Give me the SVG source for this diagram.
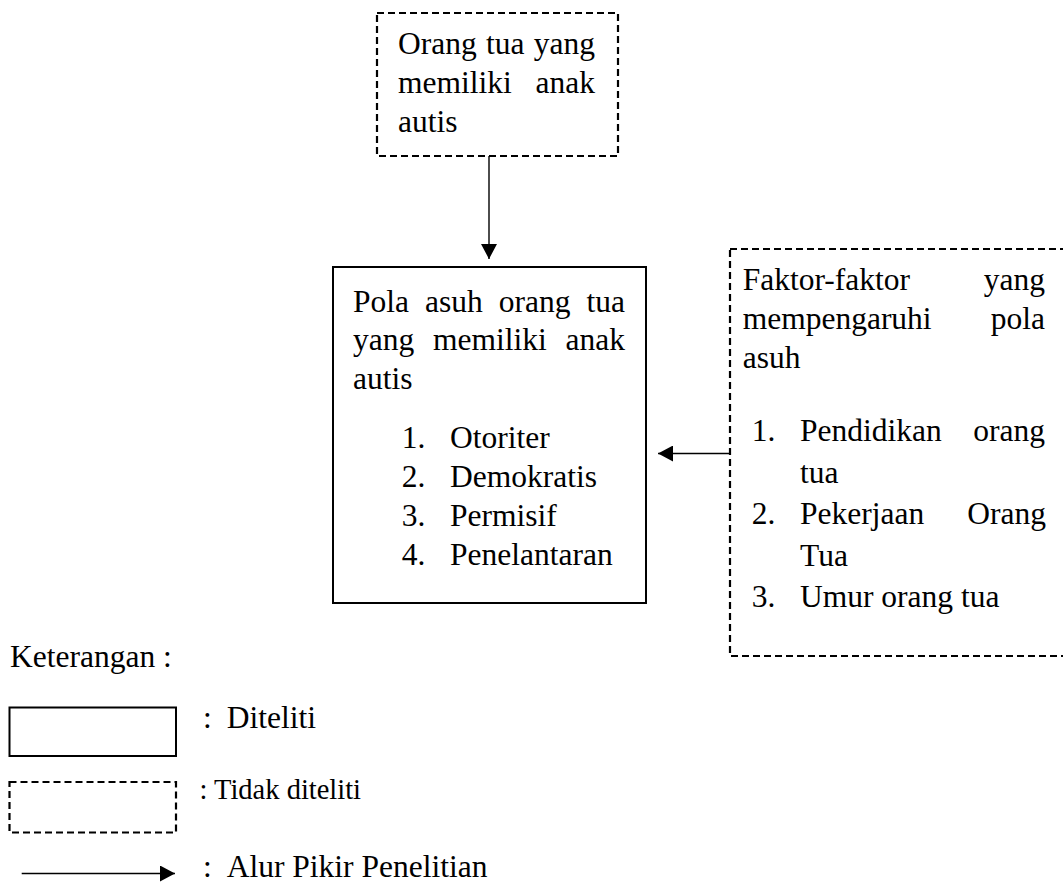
<svg xmlns="http://www.w3.org/2000/svg" width="1063" height="884" viewBox="0 0 1063 884">
  <defs>
    <style>
      .t { font-family: "Liberation Serif", "Times New Roman", serif; font-size: 31.5px; fill: #000; }
      .s { font-family: "Liberation Serif", "Times New Roman", serif; font-size: 28.5px; fill: #000; }
      .solid { fill: #fff; stroke: #000; stroke-width: 2; }
      .dash { fill: #fff; stroke: #000; stroke-width: 2.2; stroke-dasharray: 7 4; }
      .conn { fill: none; stroke: #000; stroke-width: 1.4; }
    </style>
    <marker id="arrow" markerUnits="userSpaceOnUse" markerWidth="15" markerHeight="16" refX="15" refY="8" orient="auto">
      <path d="M0,0 L15,8 L0,16 z" fill="#000"/>
    </marker>
  </defs>
  <rect width="1063" height="884" fill="#fff"/>

  <g id="connectors">
    <line class="conn" x1="489" y1="156" x2="489" y2="259" marker-end="url(#arrow)"/>
    <line class="conn" x1="730" y1="453.5" x2="658" y2="453.5" marker-end="url(#arrow)"/>
  </g>

  <g id="node-orang-tua">
    <rect class="dash" x="377" y="13" width="241" height="143"/>
    <text class="t" x="398" y="54">Orang</text>
    <text class="t" x="486" y="54">tua</text>
    <text class="t" x="595" y="54" text-anchor="end">yang</text>
    <text class="t" x="398" y="93">memiliki</text>
    <text class="t" x="595" y="93" text-anchor="end">anak</text>
    <text class="t" x="398" y="132">autis</text>
  </g>

  <g id="node-pola-asuh">
    <rect class="solid" x="333" y="267" width="313" height="336"/>
    <text class="t" x="353" y="311.5">Pola</text>
    <text class="t" x="425" y="311.5">asuh</text>
    <text class="t" x="498.7" y="311.5">orang</text>
    <text class="t" x="625" y="311.5" text-anchor="end">tua</text>
    <text class="t" x="353" y="350">yang</text>
    <text class="t" x="433" y="350">memiliki</text>
    <text class="t" x="625" y="350" text-anchor="end">anak</text>
    <text class="t" x="353" y="388.5">autis</text>
    <text class="t" x="401.7" y="447.5">1.</text>
    <text class="t" x="450" y="447.5">Otoriter</text>
    <text class="t" x="401.7" y="486.5">2.</text>
    <text class="t" x="450" y="486.5">Demokratis</text>
    <text class="t" x="401.7" y="525.5">3.</text>
    <text class="t" x="450" y="525.5">Permisif</text>
    <text class="t" x="401.7" y="564.5">4.</text>
    <text class="t" x="450" y="564.5">Penelantaran</text>
  </g>

  <g id="node-faktor">
    <rect class="dash" x="730" y="249" width="345" height="407"/>
    <text class="t" x="742.7" y="290">Faktor-faktor</text>
    <text class="t" x="1045" y="290" text-anchor="end">yang</text>
    <text class="t" x="742.7" y="329">mempengaruhi</text>
    <text class="t" x="1045" y="329" text-anchor="end">pola</text>
    <text class="t" x="742.7" y="368">asuh</text>
    <text class="t" x="751.7" y="441">1.</text>
    <text class="t" x="800" y="441">Pendidikan</text>
    <text class="t" x="1045" y="441" text-anchor="end">orang</text>
    <text class="t" x="800" y="482.5">tua</text>
    <text class="t" x="751.7" y="524">2.</text>
    <text class="t" x="800" y="524">Pekerjaan</text>
    <text class="t" x="1046" y="524" text-anchor="end">Orang</text>
    <text class="t" x="800" y="565.5">Tua</text>
    <text class="t" x="751.7" y="607">3.</text>
    <text class="t" x="800" y="607">Umur orang tua</text>
  </g>

  <g id="legend">
    <text class="t" x="10" y="667">Keterangan :</text>
    <rect class="solid" x="9.5" y="707.5" width="166.5" height="48.5"/>
    <text class="t" x="203" y="727.5">:</text>
    <text class="t" x="226.7" y="727.5">Diteliti</text>
    <rect class="dash" x="9.5" y="782" width="166.5" height="50.5"/>
    <text class="s" x="199.5" y="799">: Tidak diteliti</text>
    <line class="conn" x1="21.7" y1="873.5" x2="175" y2="873.5" marker-end="url(#arrow)"/>
    <text class="t" x="203" y="877">:</text>
    <text class="t" x="226.7" y="877">Alur Pikir Penelitian</text>
  </g>
</svg>
